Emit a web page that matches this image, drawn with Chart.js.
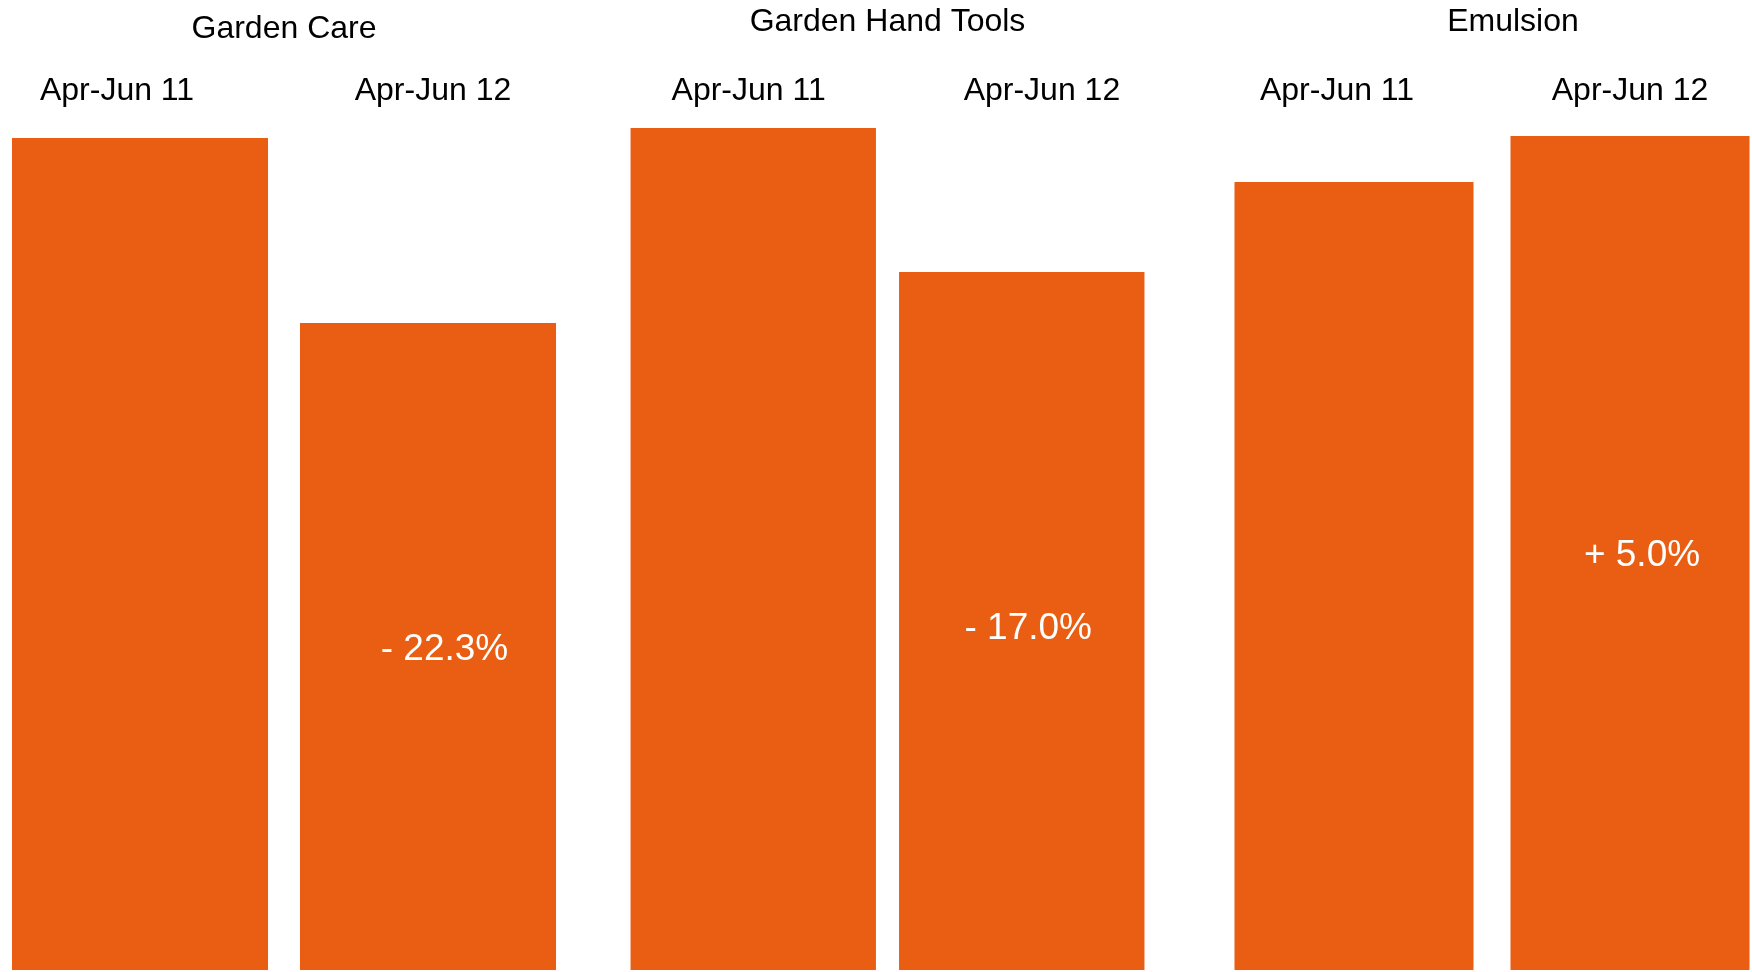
<!DOCTYPE html>
<html>
<head>
<meta charset="utf-8">
<script src="https://cdn.jsdelivr.net/npm/chart.js@4/dist/chart.umd.min.js"></script>
<style>
  html, body { margin: 0; padding: 0; background: #ffffff; width: 1752px; height: 972px; overflow: hidden; position: relative; }
  .panel { position: absolute; top: 0; height: 972px; }
</style>
</head>
<body>
<div class="panel" id="p0" style="left:-4px;width:576px;"><canvas id="c0"></canvas></div>
<div class="panel" id="p1" style="left:619px;width:537px;"><canvas id="c1"></canvas></div>
<div class="panel" id="p2" style="left:1216px;width:594px;"><canvas id="c2"></canvas></div>
<script>
// ---- data (arbitrary units) ----
const categories = ['Apr-Jun 11', 'Apr-Jun 12'];
const panelTitles = ['Garden Care', 'Garden Hand Tools', 'Emulsion'];
const gardenCare = [832, 647];
const gardenHandTools = [842, 698];
const emulsion = [788, 834];
const changeLabels = [['', '- 22.3%'], ['', '- 17.0%'], ['', '+ 5.0%']];
const yMax = 860;

// ---- styles / layout ----
const BAR_COLOR = '#E95E12';
const FONT = '"Liberation Sans", Arial, Helvetica, sans-serif';
const panelValues = [gardenCare, gardenHandTools, emulsion];
const barPct = [0.889, 0.914, 0.866];
const titlePad = [{ top: 9.7, bottom: 7.9 }, { top: 3, bottom: 14.6 }, { top: 3, bottom: 14.6 }];
// range of the label-only top axis, so that category labels sit as in the reference
const labelAxisRange = [[-0.383, 1.440], [-0.442, 1.389], [-0.413, 1.471]];
const rightSpacer = [0, 0, 42];
const labelShiftX = [16.5, 6.5, 12];
const labelShiftY = [0, 5, 0];
const LABEL_FONT_SIZE = 37;

const changeLabelPlugin = {
  id: 'changeLabels',
  afterDatasetsDraw(chart) {
    const o = chart.options.plugins.changeLabels;
    const meta = chart.getDatasetMeta(0);
    const ctx = chart.ctx;
    ctx.save();
    ctx.fillStyle = '#ffffff';
    ctx.font = LABEL_FONT_SIZE + 'px ' + FONT;
    ctx.textAlign = 'center';
    ctx.textBaseline = 'alphabetic';
    meta.data.forEach((bar, i) => {
      const t = o.labels[i];
      if (!t) return;
      const p = bar.getProps(['x', 'y', 'base'], true);
      ctx.fillText(t, p.x + o.dx, (p.y + p.base) / 2 + LABEL_FONT_SIZE * 0.358 + o.dy);
    });
    ctx.restore();
  }
};

Chart.defaults.font.family = FONT;
Chart.defaults.color = '#000000';

panelValues.forEach((vals, k) => {
  const scales = {
    x: {
      type: 'category',
      display: false
    },
    xl: {
      type: 'linear',
      axis: 'x',
      position: 'top',
      offset: false,
      min: labelAxisRange[k][0],
      max: labelAxisRange[k][1],
      grid: { display: false, drawTicks: false, offset: false },
      border: { display: false },
      afterBuildTicks(scale) {
        scale.ticks = categories.map((c, i) => ({ value: i }));
      },
      ticks: {
        color: '#000000',
        font: { size: 32, family: FONT },
        padding: 0,
        maxRotation: 0,
        autoSkip: false,
        callback: (v) => categories[v]
      },
      afterFit(scale) { scale.height = 54; }
    },
    y: {
      display: false,
      min: 0,
      max: yMax
    }
  };
  if (rightSpacer[k] > 0) {
    scales.spacer = {
      type: 'linear',
      axis: 'y',
      position: 'right',
      display: true,
      grid: { display: false, drawTicks: false },
      border: { display: false },
      ticks: { display: false },
      afterFit(scale) { scale.width = rightSpacer[k]; }
    };
  }
  new Chart(document.getElementById('c' + k), {
    type: 'bar',
    data: {
      labels: categories,
      datasets: [{
        data: vals,
        xAxisID: 'x',
        yAxisID: 'y',
        backgroundColor: BAR_COLOR,
        borderWidth: 0,
        categoryPercentage: 1.0,
        barPercentage: barPct[k]
      }]
    },
    options: {
      responsive: true,
      maintainAspectRatio: false,
      animation: false,
      layout: { padding: { top: 0, bottom: 2, left: 0, right: 0 } },
      plugins: {
        legend: { display: false },
        tooltip: { enabled: false },
        title: {
          display: true,
          text: panelTitles[k],
          color: '#000000',
          font: { size: 32, weight: 'normal', family: FONT, lineHeight: 1.2 },
          padding: titlePad[k]
        },
        changeLabels: { labels: changeLabels[k], dx: labelShiftX[k], dy: labelShiftY[k] }
      },
      scales: scales
    },
    plugins: [changeLabelPlugin]
  });
});
</script>
</body>
</html>
